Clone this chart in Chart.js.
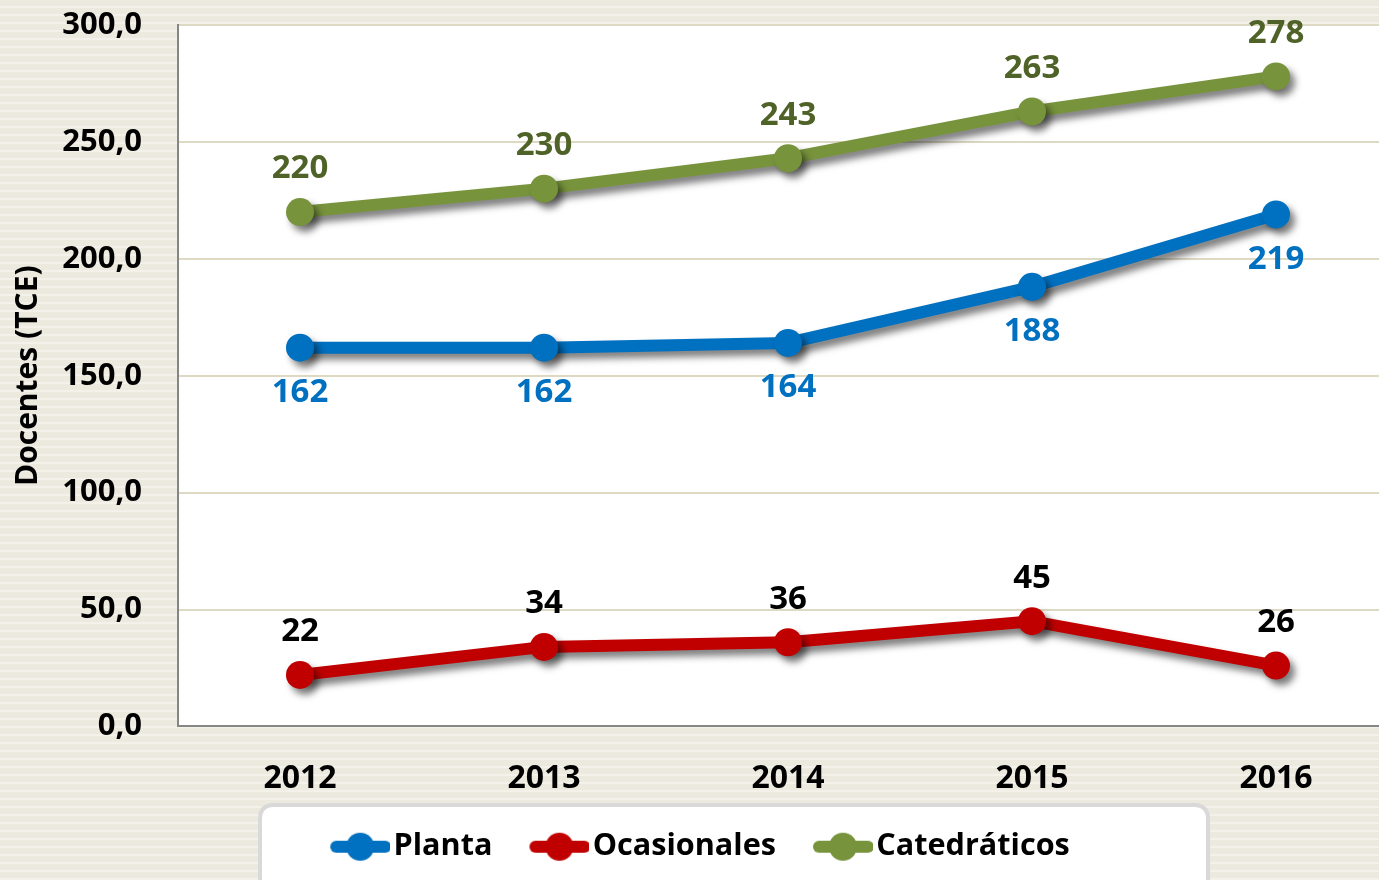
<!DOCTYPE html>
<html>
<head>
<meta charset="utf-8">
<script src="https://cdn.jsdelivr.net/npm/chart.js@4.4.1/dist/chart.umd.min.js"></script>
<style>
  html, body { margin: 0; padding: 0; width: 1379px; height: 880px; overflow: hidden;
    background: repeating-linear-gradient(to bottom, #ECE9DE 0px, #ECE9DE 6px, #F3F1EA 6px, #F3F1EA 8px); }
  #c { position: absolute; left: 0; top: 0; }
</style>
</head>
<body>
<canvas id="c" width="1412" height="880"></canvas>
<script>
const categories = ['2012', '2013', '2014', '2015', '2016'];
const planta = [162, 162, 164, 188, 219];
const ocasionales = [22, 34, 36, 45, 26];
const catedraticos = [220, 230, 243, 263, 278];
const yTickLabels = ['0,0', '50,0', '100,0', '150,0', '200,0', '250,0', '300,0'];
const seriesNames = ['Planta', 'Ocasionales', 'Catedráticos'];
const seriesColors = ['#0070C0', '#C00000', '#77933C'];
const labelColors = ['#0070C0', '#000000', '#4F6228'];
const labelOffsets = [45, -43, -43];

const FONT = "'Open Sans', 'DejaVu Sans', sans-serif";

// legend marker: line with a dot, drawn on the right 60px of a 99px image
function legendMarker(color) {
  const c = document.createElement('canvas');
  c.width = 99; c.height = 32;
  const x = c.getContext('2d');
  x.strokeStyle = color; x.lineWidth = 12; x.lineCap = 'round';
  x.beginPath(); x.moveTo(45, 16); x.lineTo(94, 16); x.stroke();
  x.fillStyle = color; x.beginPath(); x.arc(69, 16, 14, 0, Math.PI * 2); x.fill();
  return c;
}
const markers = seriesColors.map(legendMarker);

const decorPlugin = {
  id: 'decor',
  afterLayout(chart) {
    if (chart.legend) { chart.legend.left -= 18; chart.legend.right -= 18; }
  },
  beforeDraw(chart) {
    const { ctx, chartArea: a } = chart;
    ctx.save();
    ctx.fillStyle = '#FFFFFF';
    ctx.fillRect(a.left, a.top, a.right - a.left, a.bottom - a.top);
    // legend frame
    const L = 260, T = 805, R = 1208, B = 900, r = 14;
    ctx.beginPath();
    ctx.moveTo(L + r, T); ctx.lineTo(R - r, T); ctx.quadraticCurveTo(R, T, R, T + r);
    ctx.lineTo(R, B); ctx.lineTo(L, B); ctx.lineTo(L, T + r); ctx.quadraticCurveTo(L, T, L + r, T);
    ctx.closePath();
    ctx.fillStyle = '#FFFFFF'; ctx.fill();
    ctx.lineWidth = 4; ctx.strokeStyle = '#D9D9D9'; ctx.stroke();
    ctx.restore();
  },
  beforeDatasetsDraw(chart) {
    const ctx = chart.ctx;
    ctx.save();
    ctx.shadowColor = 'rgba(0,0,0,0.5)';
    ctx.shadowBlur = 7;
    ctx.shadowOffsetX = 5;
    ctx.shadowOffsetY = 6;
  },
  afterDatasetsDraw(chart) {
    const ctx = chart.ctx;
    ctx.restore();
    ctx.save();
    ctx.font = 'bold 33px ' + FONT;
    ctx.textAlign = 'center';
    ctx.textBaseline = 'middle';
    chart.data.datasets.forEach((ds, i) => {
      const meta = chart.getDatasetMeta(i);
      meta.data.forEach((pt, j) => {
        ctx.fillStyle = labelColors[i];
        ctx.fillText(String(ds.data[j]), pt.x, pt.y + labelOffsets[i]);
      });
    });
    ctx.restore();
  }
};

function mkDs(label, data, color) {
  return {
    label, data,
    borderColor: color, backgroundColor: color,
    pointBackgroundColor: color, pointBorderColor: color,
    borderWidth: 12, pointRadius: 14, pointHoverRadius: 14, pointBorderWidth: 0,
    tension: 0, fill: false
  };
}

new Chart(document.getElementById('c'), {
  type: 'line',
  data: {
    labels: categories,
    datasets: [
      mkDs(seriesNames[0], planta, seriesColors[0]),
      mkDs(seriesNames[1], ocasionales, seriesColors[1]),
      mkDs(seriesNames[2], catedraticos, seriesColors[2])
    ]
  },
  options: {
    responsive: false,
    animation: false,
    devicePixelRatio: 1,
    layout: { padding: { top: 25, right: 3, bottom: 8, left: 0 } },
    plugins: {
      tooltip: { enabled: false },
      legend: {
        position: 'bottom',
        align: 'center',
        labels: {
          usePointStyle: true,
          pointStyleWidth: 75,
          padding: 10,
          color: '#000000',
          font: { family: FONT, size: 30.6, weight: 'bold' },
          generateLabels(chart) {
            return chart.data.datasets.map((ds, i) => ({
              text: ds.label,
              fillStyle: seriesColors[i],
              strokeStyle: seriesColors[i],
              fontColor: '#000000',
              lineWidth: 0,
              pointStyle: markers[i],
              hidden: false,
              datasetIndex: i
            }));
          }
        }
      }
    },
    scales: {
      x: {
        type: 'category',
        offset: true,
        grid: { display: false, drawTicks: false },
        border: { display: true, color: '#868686', width: 2 },
        ticks: { padding: 33, color: '#000000', font: { family: FONT, size: 32, weight: 'bold' } },
        afterFit(s) { s.height = 95; s.paddingLeft = 0; s.paddingRight = 0; }
      },
      y: {
        min: 0, max: 300,
        grid: { color: '#DDD9C3', lineWidth: 2, drawTicks: false },
        border: { display: true, color: '#868686', width: 2 },
        ticks: {
          stepSize: 50, padding: 36, color: '#000000',
          font: { family: FONT, size: 31, weight: 'bold' },
          callback(v, i) { return yTickLabels[i]; }
        },
        title: {
          display: true, text: 'Docentes (TCE)', color: '#000000',
          font: { family: FONT, size: 30, weight: 'bold' },
          padding: { top: 10, bottom: 0 }
        },
        afterFit(s) { s.width = 178; s.paddingTop = 0; s.paddingBottom = 0; }
      }
    }
  },
  plugins: [decorPlugin]
});
</script>
</body>
</html>
